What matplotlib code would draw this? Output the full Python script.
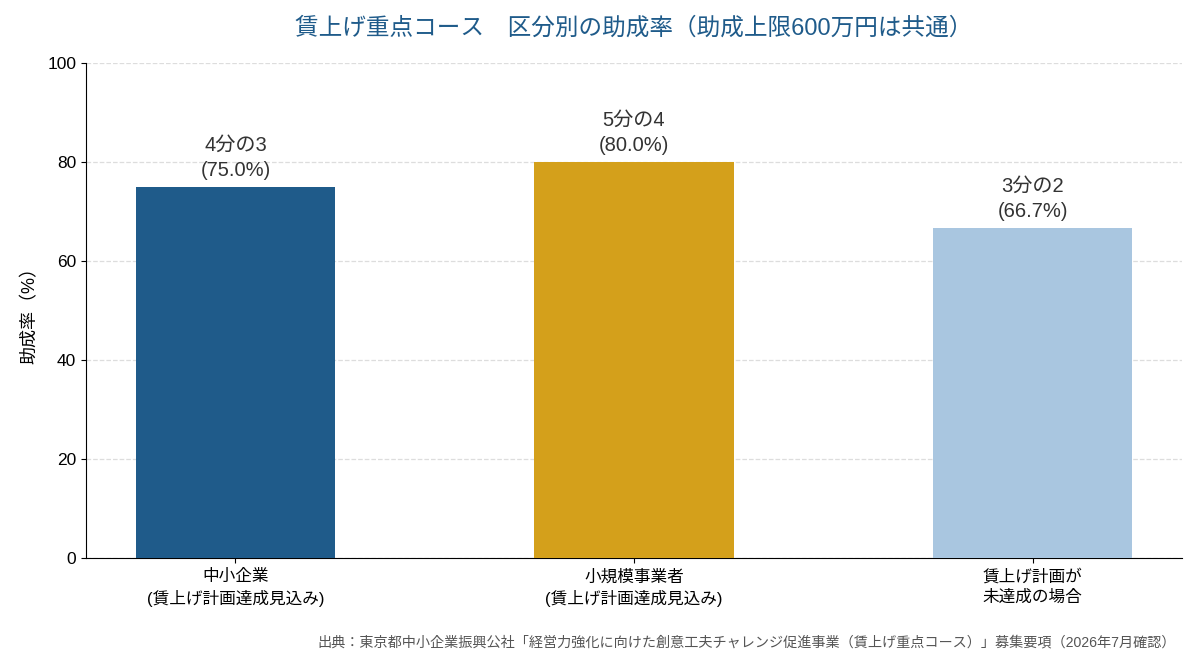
import matplotlib
matplotlib.use("Agg")
import matplotlib.pyplot as plt

plt.rcParams['font.family'] = ['Liberation Sans', 'Noto Sans CJK JP', 'DejaVu Sans']

categories = ["中小企業\n(賃上げ計画達成見込み)", "小規模事業者\n(賃上げ計画達成見込み)", "賃上げ計画が\n未達成の場合"]
values = [75.0, 80.0, 66.7]
fractions = ["4分の3", "5分の4", "3分の2"]
colors = ["#1f5b8a", "#d4a01b", "#a9c6e0"]
yticks = [0, 20, 40, 60, 80, 100]

fig = plt.figure(figsize=(12, 6.72), dpi=100)
ax = fig.add_axes([86/1200, 1-558/672, (1182-86)/1200, (558-63)/672])

x = list(range(len(categories)))
bars = ax.bar(x, values, width=0.5, color=colors, zorder=3)
for xi, v, fr in zip(x, values, fractions):
    ax.annotate(f"{fr}\n({v:.1f}%)", (xi, v), xytext=(0, 5), textcoords="offset points",
                ha="center", va="bottom", fontsize=14.5, color="#333333", linespacing=1.4)

ax.set_xlim(-0.375, 2.375)
ax.set_ylim(0, 100)
ax.set_yticks(yticks)
ax.set_xticks(x)
ax.set_xticklabels(categories, fontsize=12, linespacing=1.4)
ax.tick_params(axis='y', labelsize=12.5)
ax.tick_params(axis='x', pad=4.5)
ax.yaxis.grid(True, linestyle='--', color='#dddddd', linewidth=0.9, zorder=0)
ax.set_axisbelow(True)
for s in ['top', 'right']:
    ax.spines[s].set_visible(False)
ax.set_ylabel("助成率（%）", fontsize=13, labelpad=6)

fig.text((86+1182)/2/1200, 1-28/672, "賃上げ重点コース　区分別の助成率（助成上限600万円は共通）",
         ha="center", va="center", fontsize=17, color="#1f5b8a")
fig.text(1176/1200, 1-642/672,
         "出典：東京都中小企業振興公社「経営力強化に向けた創意工夫チャレンジ促進事業（賃上げ重点コース）」募集要項（2026年7月確認）",
         ha="right", va="center", fontsize=10.2, color="#555555")

fig.savefig("out.png", dpi=100)
